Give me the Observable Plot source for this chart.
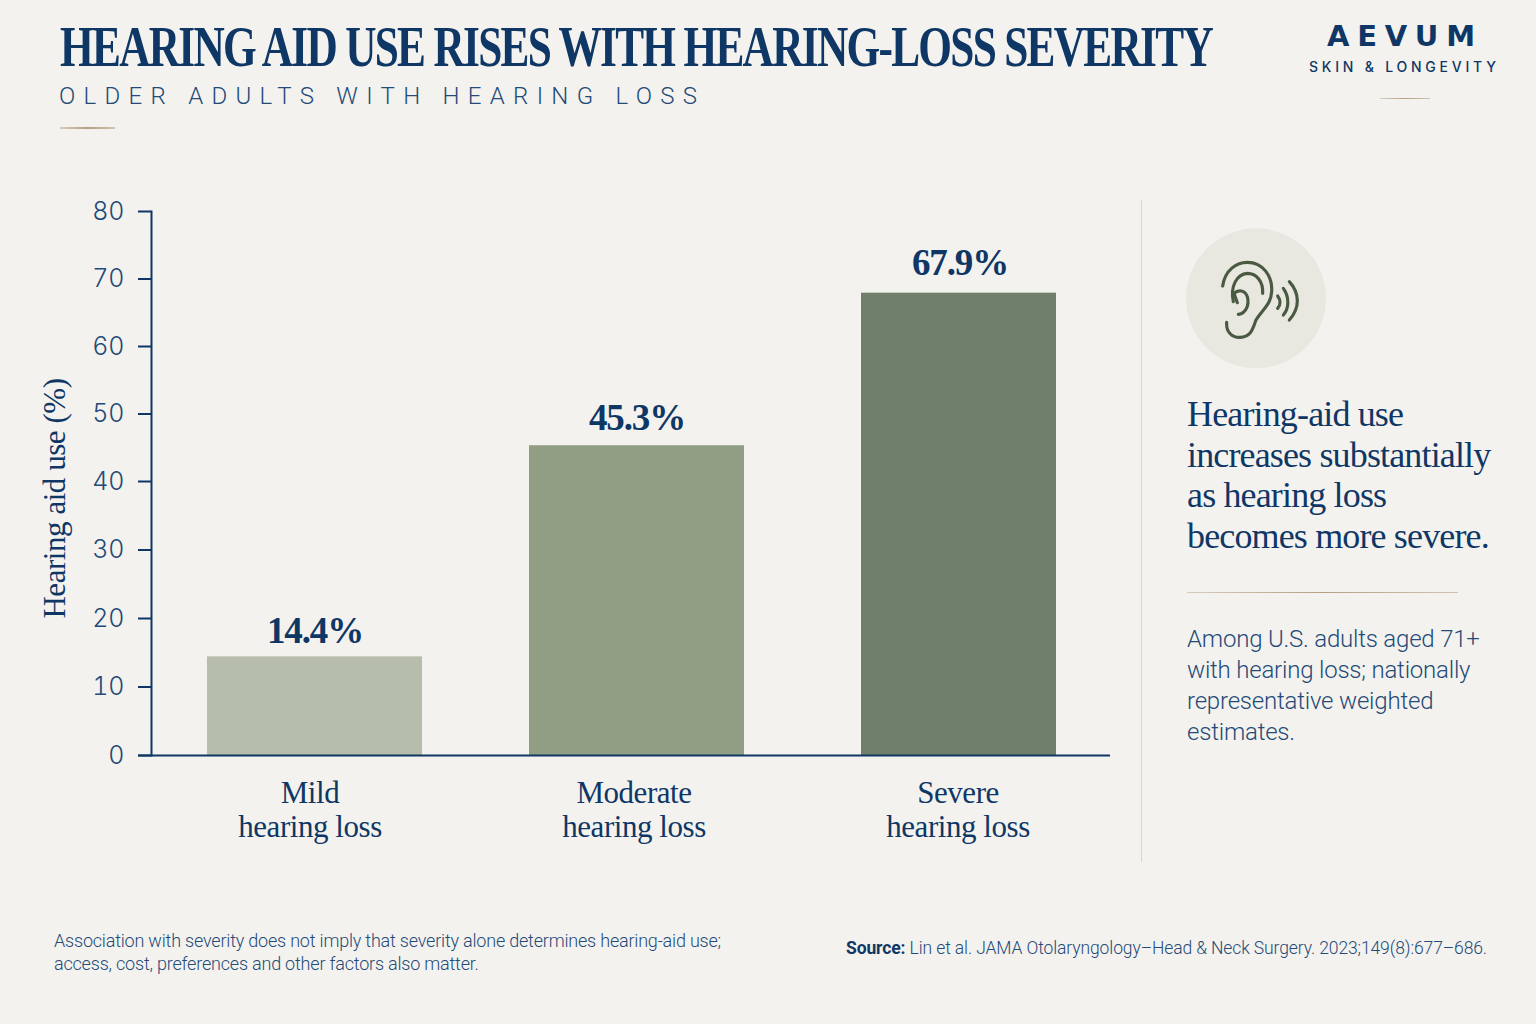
<!DOCTYPE html>
<html><head><meta charset="utf-8">
<script src="https://cdn.jsdelivr.net/npm/d3@7"></script>
<script src="https://cdn.jsdelivr.net/npm/@observablehq/plot@0.6"></script>
<style>
html,body{margin:0;padding:0;background:#f4f2ee;width:1536px;height:1024px;overflow:hidden}
.t{position:absolute;white-space:pre;color:#0f3766;margin:0}
.serif{font-family:"Liberation Serif",serif}
.rule{position:absolute;height:1.5px;background:linear-gradient(90deg,rgba(184,165,140,.5),#b5a082 50%,rgba(184,165,140,.6))}
#chart{position:absolute;left:0;top:0}
#icon{position:absolute;left:1130px;top:0}
.tight text{letter-spacing:-.45px}
.tighter text{letter-spacing:-1.1px}
</style></head><body>
<h1 id="title" class="t serif" style="left:60px;top:16px;font-size:56px;line-height:62px;font-weight:700;letter-spacing:-2.2px;transform-origin:0 0">HEARING AID USE RISES WITH HEARING-LOSS SEVERITY</h1>
<div class="t" data-w="638" style="left:59px;top:82px;font:300 24px/28px Roboto,sans-serif;color:#234a78">OLDER ADULTS WITH HEARING LOSS</div>
<div class="rule" style="left:60px;top:127px;width:55px"></div>
<div class="t" data-w="148" style="left:1327px;top:17px;font:700 29px/38px 'DejaVu Sans',sans-serif">AEVUM</div>
<div class="t" data-w="187" style="left:1309px;top:58px;font:500 14px/18px Inter,sans-serif">SKIN &amp; LONGEVITY</div>
<div class="rule" style="left:1380px;top:97.5px;width:50px"></div>
<div id="chart"></div>
<div style="position:absolute;left:1140.5px;top:200px;width:1.5px;height:662px;background:#d8d6cf"></div>
<svg id="icon" width="406" height="400" viewBox="0 0 1218 1200">
<circle cx="378" cy="895" r="210" fill="#e8e8e1"/>
<g fill="none" stroke="#4a5a42" stroke-width="9.5" stroke-linecap="round">
<path d="M278,858C285,810 320,787 352,787C400,787 428,830 425,875C423,915 395,930 378,960C368,985 365,1010 330,1012C305,1013 288,995 290,967"/>
<path d="M310,905C300,860 320,822 352,820C380,820 400,845 398,880"/>
<path d="M322,908L312,880C325,868 345,870 352,890C358,912 350,940 325,943"/>
<path d="M443,888C452,900 452,915 443,925"/>
<path d="M460,865C478,890 478,925 460,945"/>
<path d="M478,845C510,880 510,925 478,960"/>
</g></svg>
<div class="t serif" id="callout" style="left:1187px;top:394px;font-size:36px;line-height:40.7px;letter-spacing:-.85px">Hearing-aid use
increases substantially
as hearing loss
becomes more severe.</div>
<div class="rule" style="left:1187px;top:591.5px;width:271px"></div>
<div class="t" style="left:1187px;top:624px;font:300 24px/31px Roboto,sans-serif;letter-spacing:-.2px;color:#234a78">Among U.S. adults aged 71+
with hearing loss; nationally
representative weighted
estimates.</div>
<div class="t" style="left:54px;top:930px;font:300 18px/22.5px Roboto,sans-serif;letter-spacing:-.2px;color:#234a78">Association with severity does not imply that severity alone determines hearing-aid use;
access, cost, preferences and other factors also matter.</div>
<div class="t" style="left:846px;top:937px;font:300 17.5px/22px Roboto,sans-serif;letter-spacing:-.11px;color:#234a78"><b style="font-weight:700;color:#0f3766">Source:</b> Lin et al. JAMA Otolaryngology–Head &amp; Neck Surgery. 2023;149(8):677–686.</div>
<script>
const categories = ["Mild\nhearing loss", "Moderate\nhearing loss", "Severe\nhearing loss"];
const usePercent = [14.4, 45.3, 67.9];
const yTicks = [0, 10, 20, 30, 40, 50, 60, 70, 80];
const rows = categories.map((c, i) => ({category: c, value: usePercent[i]}));
const navy = "#0f3766";
const labelShift = [-5, -3, -1];
const valueShift = [-25.4, -28, -29.7];
const chart = Plot.plot({
  width: 1536, height: 880,
  marginLeft: 138, marginRight: 426, marginTop: 211, marginBottom: 125,
  style: {background: "transparent"},
  x: {domain: categories, range: [207, 1066], paddingInner: 0.333, paddingOuter: 0, label: null},
  y: {type: "linear", domain: [0, 40, 80], range: [755, 481, 211], label: null},
  color: {domain: categories, range: ["#b6bdaa", "#929e84", "#6f7f6a"]},
  marks: [
    Plot.barY(rows.slice(0, 2), {x: "category", y: "value", fill: "category"}),
    Plot.barY(rows.slice(2), {x: "category", y: "value", fill: "category", insetLeft: 10, insetRight: 10}),
    Plot.frame({anchor: "left", dx: 13, stroke: navy, strokeWidth: 2}),
    Plot.ruleY([0], {stroke: navy, strokeWidth: 2}),
    Plot.axisY({ticks: yTicks, tickSize: 13, dx: 13, tickPadding: 14, label: null, stroke: navy, strokeWidth: 2, tickFormat: d => d,
      fontFamily: "Inter, sans-serif", fontWeight: 300, fontSize: 25, fill: "#234a78"}),
    ...categories.map((c, i) => Plot.axisX({ticks: [c], tickSize: 0, tickPadding: 23, dx: labelShift[i], label: null,
      fontFamily: "Liberation Serif, serif", fontSize: 31, fill: navy, lineHeight: 1.1, lineAnchor: "top", className: "tight"})),
    ...rows.map((r, i) => Plot.text([r], {x: "category", y: "value", text: d => d.value.toFixed(1) + "%", dy: valueShift[i], dx: i === 2 ? 1 : 0, fill: navy,
      fontFamily: "Liberation Serif, serif", fontWeight: 700, fontSize: 37, lineAnchor: "middle", className: "tighter"})),
    Plot.text(["Hearing aid use (%)"], {frameAnchor: "left", rotate: -90, dx: -83, dy: 15, fill: navy, textAnchor: "middle",
      fontFamily: "Liberation Serif, serif", fontSize: 31, className: "tight"})
  ]
});
document.getElementById("chart").append(chart);
function textWidth(el){
  const r=document.createRange(); r.selectNodeContents(el);
  return r.getBoundingClientRect().width;
}
function fit(el){
  const w=+el.dataset.w, n=el.textContent.length;
  el.style.letterSpacing="0px";
  el.style.letterSpacing=((w-textWidth(el))/(n-1))+"px";
}
document.querySelectorAll("[data-w]").forEach(fit);
const title=document.getElementById("title");
title.style.transform="scaleX("+(1152/textWidth(title))+")";
</script>
</body></html>
